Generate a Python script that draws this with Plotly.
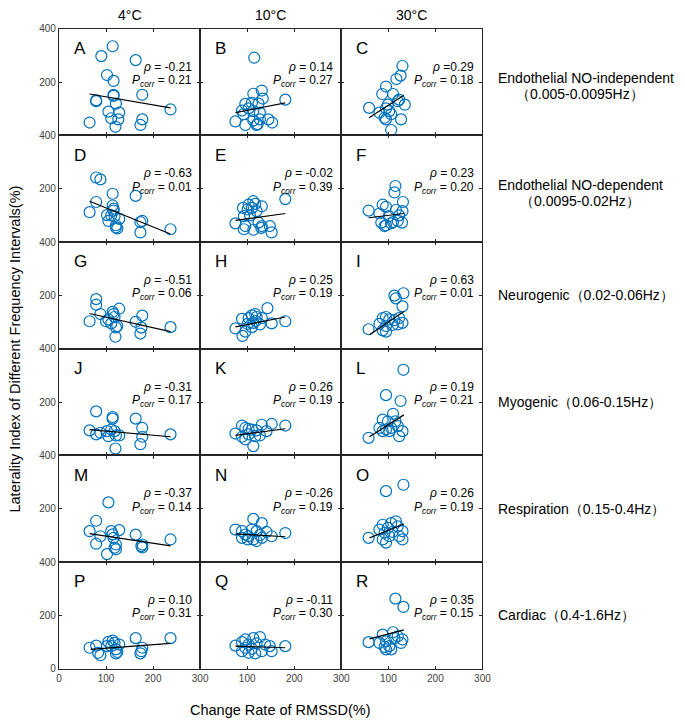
import plotly.graph_objects as go
from plotly.subplots import make_subplots

# ---------------- data ----------------
col_titles = ["4°C", "10°C", "30°C"]
row_label_1 = ["Endothelial NO-independent", "Endothelial NO-dependent", "Neurogenic（0.02-0.06Hz）",
               "Myogenic（0.06-0.15Hz）", "Respiration（0.15-0.4Hz）", "Cardiac（0.4-1.6Hz）"]
row_label_2 = ["（0.005-0.0095Hz）", "（0.0095-0.02Hz）", "", "", "", ""]
panel_letters = list("ABCDEFGHIJKLMNOPQR")
rho_vals = ["-0.21", "0.14", "0.29", "-0.63", "-0.02", "0.23", "-0.51", "0.25", "0.63",
            "-0.31", "0.26", "0.19", "-0.37", "-0.26", "0.26", "0.10", "-0.11", "0.35"]
pcorr_vals = ["0.21", "0.27", "0.18", "0.01", "0.39", "0.20", "0.06", "0.19", "0.01",
              "0.17", "0.19", "0.21", "0.14", "0.19", "0.19", "0.31", "0.30", "0.15"]
x_ticks = [0, 100, 200, 300]
y_ticks = [0, 200, 400]

A_x = [114, 90, 163, 102, 116, 116, 116, 177, 79, 79, 121, 237, 105, 128, 111, 126, 65, 177, 173, 120]
A_y = [334, 297, 282, 226, 204, 152, 148, 152, 131, 128, 119, 97, 89, 85, 64, 60, 48, 60, 39, 32]
B_x = [115, 113, 131, 133, 181, 96, 110, 124, 89, 103, 113, 127, 92, 75, 96, 113, 122, 145, 153, 127, 120]
B_y = [291, 156, 168, 138, 134, 118, 122, 119, 93, 101, 91, 85, 79, 52, 39, 56, 42, 60, 48, 60, 39]
C_x = [130, 126, 117, 95, 87, 110, 123, 135, 59, 99, 95, 102, 81, 106, 92, 95, 127, 106, 120]
C_y = [260, 224, 211, 183, 155, 155, 134, 115, 103, 115, 101, 91, 85, 79, 66, 60, 60, 20, 128]
D_x = [79, 88, 114, 163, 79, 65, 114, 116, 116, 102, 111, 118, 105, 128, 121, 124, 121, 177, 173, 173, 237]
D_y = [242, 235, 181, 173, 150, 112, 137, 125, 118, 101, 100, 97, 79, 87, 63, 51, 55, 79, 75, 36, 48]
E_x = [181, 113, 103, 117, 131, 91, 101, 110, 120, 93, 106, 75, 124, 96, 93, 113, 131, 130, 148, 152]
E_y = [161, 153, 140, 143, 134, 128, 122, 128, 116, 97, 100, 70, 73, 60, 48, 46, 60, 53, 60, 36]
F_x = [115, 113, 131, 88, 95, 58, 116, 130, 81, 101, 123, 85, 95, 106, 120, 129, 92, 110]
F_y = [210, 186, 150, 140, 132, 118, 120, 116, 107, 97, 100, 73, 63, 70, 79, 73, 60, 75]
G_x = [79, 79, 128, 88, 114, 116, 118, 65, 100, 105, 111, 124, 121, 177, 163, 175, 173, 237, 120]
G_y = [186, 165, 150, 130, 138, 130, 119, 103, 103, 110, 95, 85, 80, 124, 101, 79, 57, 81, 45]
H_x = [143, 117, 110, 120, 89, 103, 131, 101, 113, 127, 181, 152, 75, 96, 90, 110, 118]
H_y = [152, 130, 125, 119, 112, 115, 115, 93, 97, 91, 103, 95, 76, 64, 48, 81, 104]
I_x = [132, 113, 116, 130, 88, 95, 102, 113, 123, 130, 81, 95, 109, 58, 88, 95, 120]
I_y = [208, 199, 189, 159, 115, 119, 110, 107, 115, 97, 93, 85, 89, 73, 69, 64, 91]
J_x = [79, 114, 114, 163, 177, 65, 79, 88, 102, 105, 111, 118, 121, 128, 177, 173, 237, 120]
J_y = [165, 144, 138, 138, 103, 94, 79, 85, 91, 72, 97, 91, 75, 75, 70, 42, 79, 26]
K_x = [181, 152, 131, 89, 96, 103, 110, 120, 141, 75, 89, 103, 117, 127, 113, 96]
K_y = [112, 118, 115, 112, 103, 100, 97, 94, 91, 82, 70, 79, 72, 75, 35, 60]
L_x = [132, 95, 126, 110, 88, 99, 115, 81, 95, 106, 130, 123, 102, 88, 58, 120]
L_y = [321, 226, 204, 156, 134, 128, 128, 103, 97, 103, 91, 72, 91, 91, 66, 110]
M_x = [105, 79, 65, 111, 128, 88, 114, 116, 163, 79, 121, 118, 177, 175, 237, 102, 121, 177]
M_y = [224, 155, 116, 116, 120, 97, 104, 91, 103, 69, 66, 54, 66, 60, 85, 30, 48, 55]
N_x = [113, 131, 75, 89, 110, 120, 141, 181, 96, 103, 127, 152, 89, 113, 120, 101, 131]
N_y = [162, 146, 122, 116, 122, 116, 113, 109, 103, 97, 101, 97, 91, 85, 79, 85, 91]
O_x = [132, 95, 116, 106, 88, 120, 99, 81, 130, 109, 92, 102, 123, 58, 88, 95, 130]
O_y = [290, 266, 153, 146, 140, 134, 128, 122, 116, 113, 110, 97, 97, 91, 85, 73, 85]
P_x = [163, 237, 65, 79, 83, 88, 105, 114, 118, 128, 111, 121, 124, 121, 177, 173, 175, 102]
P_y = [115, 115, 79, 87, 60, 51, 101, 106, 97, 91, 85, 73, 63, 58, 79, 58, 66, 85]
Q_x = [75, 89, 96, 113, 127, 103, 120, 138, 148, 181, 89, 103, 117, 131, 152, 96, 110]
Q_y = [87, 100, 110, 115, 119, 91, 95, 91, 85, 85, 66, 60, 58, 66, 66, 79, 75]
R_x = [115, 132, 110, 88, 58, 81, 95, 120, 130, 102, 92, 106, 127, 95, 113]
R_y = [263, 232, 137, 128, 100, 97, 103, 122, 110, 85, 82, 73, 97, 73, 115]

# fitted line end points (x range, y values)
fit_x = [[65, 237], [75, 181], [59, 133], [65, 237], [75, 181], [58, 133],
         [65, 237], [75, 181], [60, 133], [65, 237], [75, 181], [60, 133],
         [65, 237], [75, 181], [60, 133], [67, 237], [75, 181], [60, 133]]
fit_y = [[155, 103], [85, 122], [66, 150], [153, 30], [81, 107], [91, 107],
         [132, 64], [82, 119], [52, 140], [97, 70], [75, 100], [70, 152],
         [107, 61], [106, 95], [91, 143], [73, 95], [85, 79], [112, 146]]

xs = [A_x, B_x, C_x, D_x, E_x, F_x, G_x, H_x, I_x, J_x, K_x, L_x, M_x, N_x, O_x, P_x, Q_x, R_x]
ys = [A_y, B_y, C_y, D_y, E_y, F_y, G_y, H_y, I_y, J_y, K_y, L_y, M_y, N_y, O_y, P_y, Q_y, R_y]

# ---------------- layout geometry ----------------
W, H = 685, 726
left_px, right_px = 57, 488
top_px, bottom_px = 23, 673
col_w = (right_px - left_px) / 3
row_h = (bottom_px - top_px) / 6

BLUE = "#0072BD"
AX = "#262626"
FONT = "Liberation Sans, Arial, sans-serif"

fig = make_subplots(rows=6, cols=3, horizontal_spacing=0, vertical_spacing=0)

annotations = []
for i in range(18):
    r, c = divmod(i, 3)
    x0 = (left_px + c * col_w) / W
    x1 = (left_px + (c + 1) * col_w) / W
    y1 = 1 - (top_px + r * row_h) / H
    y0 = 1 - (top_px + (r + 1) * row_h) / H

    fig.add_trace(go.Scatter(
        x=xs[i], y=ys[i], mode="markers",
        marker=dict(symbol="circle-open", size=11, color=BLUE, line=dict(width=1.2, color=BLUE)),
        showlegend=False, hoverinfo="skip"), row=r + 1, col=c + 1)
    fig.add_trace(go.Scatter(
        x=fit_x[i], y=fit_y[i], mode="lines",
        line=dict(color="black", width=1.2),
        showlegend=False, hoverinfo="skip"), row=r + 1, col=c + 1)

    if r == 5:
        xt = x_ticks if c == 0 else x_ticks[1:]
        show_xl = True
    else:
        xt = x_ticks[1:3]
        show_xl = False
    fig.update_xaxes(domain=[x0, x1], range=[0, 300], tickvals=xt,
                     ticktext=[str(v) for v in xt],
                     showticklabels=show_xl, ticks="inside", ticklen=3, tickcolor=AX,
                     showline=True, linecolor=AX, linewidth=1.2, mirror="ticks",
                     showgrid=False, zeroline=False,
                     tickfont=dict(family=FONT, size=10, color="#404040"),
                     row=r + 1, col=c + 1)
    if c == 0:
        yt = y_ticks if r == 5 else y_ticks[1:]
        show_yl = True
    else:
        yt = y_ticks[1:2]
        show_yl = False
    fig.update_yaxes(domain=[y0, y1], range=[0, 400], tickvals=yt,
                     ticktext=[str(v) for v in yt],
                     showticklabels=show_yl, ticks="inside", ticklen=3, tickcolor=AX,
                     showline=True, linecolor=AX, linewidth=1.2, mirror="ticks",
                     showgrid=False, zeroline=False,
                     tickfont=dict(family=FONT, size=10, color="#404040"),
                     row=r + 1, col=c + 1)

    xref = "x" if i == 0 else f"x{i+1}"
    yref = "y" if i == 0 else f"y{i+1}"
    annotations.append(dict(x=27, y=326, xref=xref, yref=yref, text=panel_letters[i],
                            showarrow=False, xanchor="left", yanchor="middle",
                            font=dict(family=FONT, size=17, color="black")))
    rho_txt = f"<i>ρ</i> = {rho_vals[i]}" if i != 2 else f"<i>ρ</i> ={rho_vals[i]}"
    annotations.append(dict(x=286, y=258, xref=xref, yref=yref, text=rho_txt,
                            showarrow=False, xanchor="right", yanchor="middle",
                            font=dict(family=FONT, size=12, color="black")))
    annotations.append(dict(x=286, y=204, xref=xref, yref=yref,
                            text=f"<i>P</i><sub><i>corr</i></sub> = {pcorr_vals[i]}",
                            showarrow=False, xanchor="right", yanchor="middle",
                            font=dict(family=FONT, size=12, color="black")))

# column titles
for c, t in enumerate(col_titles):
    annotations.append(dict(x=(left_px + (c + 0.5) * col_w) / W, y=1 - 9 / H,
                            xref="paper", yref="paper", text=t, showarrow=False,
                            xanchor="center", yanchor="middle",
                            font=dict(family=FONT, size=14, color="black")))

# row labels
for r in range(6):
    yc = top_px + (r + 0.5) * row_h
    if row_label_2[r]:
        annotations.append(dict(x=502 / W, y=1 - (yc - 4) / H, xref="paper", yref="paper",
                                text=row_label_1[r], showarrow=False, xanchor="left",
                                yanchor="middle", font=dict(family=FONT, size=14, color="black")))
        annotations.append(dict(x=587 / W, y=1 - (yc + 12) / H, xref="paper", yref="paper",
                                text=row_label_2[r], showarrow=False, xanchor="center",
                                yanchor="middle", font=dict(family=FONT, size=14, color="black")))
    else:
        annotations.append(dict(x=502 / W, y=1 - yc / H, xref="paper", yref="paper",
                                text=row_label_1[r], showarrow=False, xanchor="left",
                                yanchor="middle", font=dict(family=FONT, size=14, color="black")))

# axis titles
annotations.append(dict(x=12 / W, y=1 - ((top_px + bottom_px) / 2) / H, xref="paper", yref="paper",
                        text="Laterality Index of Different Frequency Intervals(%)",
                        textangle=-90, showarrow=False, xanchor="center", yanchor="middle",
                        font=dict(family=FONT, size=14.5, color="black")))
annotations.append(dict(x=282 / W, y=1 - 715 / H, xref="paper", yref="paper",
                        text="Change Rate of RMSSD(%)", showarrow=False,
                        xanchor="center", yanchor="middle",
                        font=dict(family=FONT, size=14.5, color="black")))

fig.update_layout(width=W, height=H, margin=dict(l=0, r=0, t=0, b=0),
                  paper_bgcolor="white", plot_bgcolor="white",
                  annotations=annotations, showlegend=False)

fig.write_html("out.html", config={"displayModeBar": False},
               post_script="document.body.style.margin='0px';")
